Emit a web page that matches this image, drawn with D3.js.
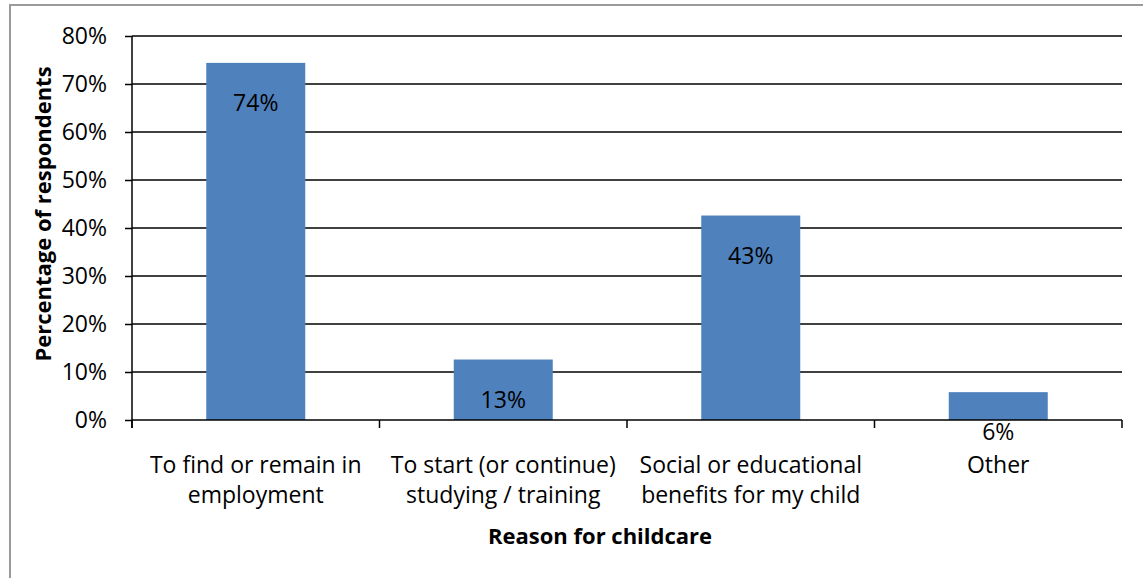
<!DOCTYPE html>
<html><head><meta charset="utf-8">
<script src="https://cdn.jsdelivr.net/npm/d3@7"></script>
<style>body{margin:0;background:#fff;} svg{display:block;} text{font-family:"Open Sans",sans-serif;fill:#000;}</style>
</head><body>
<svg id="c" width="1143" height="578"></svg>
<script>
const categories = [["To find or remain in","employment"],["To start (or continue)","studying / training"],["Social or educational","benefits for my child"],["Other"]];
const values = [0.744, 0.126, 0.426, 0.058];
const valueLabels = ["74%","13%","43%","6%"];
const yTicks = [0,0.1,0.2,0.3,0.4,0.5,0.6,0.7,0.8];
const yTitle = "Percentage of respondents";
const xTitle = "Reason for childcare";

(function(){
const FS = "23px", FB = "22px";
const svg = d3.select("#c");
const pL = 132, pR = 1122, pT = 36, pB = 420;
const x = d3.scaleBand().domain(d3.range(categories.length)).range([pL,pR]).paddingInner(0.6).paddingOuter(0.3);
const step = x.step();
const y = d3.scaleLinear().domain([0,0.8]).range([pB,pT]);

// frame
svg.append("path").attr("d",`M10,578 V5 H1143`).attr("fill","none").attr("stroke","#9a9a9a").attr("stroke-width",2);

// gridlines
svg.append("g").selectAll("line").data(yTicks.filter(d=>d>0)).join("line")
  .attr("x1",pL).attr("x2",pR).attr("y1",d=>y(d)).attr("y2",d=>y(d))
  .attr("stroke","#000").attr("stroke-width",1.5);

// y axis
const yAxis = d3.axisLeft(y).tickValues(yTicks).tickFormat(d3.format(".0%")).tickSize(7).tickPadding(18);
const yg = svg.append("g").attr("transform",`translate(${pL},0)`).call(yAxis);
yg.select(".domain").attr("stroke","#000").attr("stroke-width",1.5).attr("d",`M0,${pT}V${pB+8}`);
yg.selectAll(".tick line").attr("stroke","#000").attr("stroke-width",1.5);
yg.selectAll(".tick text").style("font-size",FS).style("font-family","'Open Sans',sans-serif").attr("fill","#000");

// bars
svg.append("g").selectAll("rect").data(values).join("rect")
  .attr("x",(d,i)=>x(i)).attr("width",x.bandwidth())
  .attr("y",d=>y(d)).attr("height",d=>pB-y(d)).attr("fill","#4F81BD");

// x axis baseline and ticks
svg.append("line").attr("x1",pL).attr("x2",pR).attr("y1",pB).attr("y2",pB).attr("stroke","#000").attr("stroke-width",1.5);
const bounds = d3.range(categories.length+1).map(i=>pL+i*step);
svg.append("g").selectAll("line").data(bounds).join("line")
  .attr("x1",d=>d).attr("x2",d=>d).attr("y1",pB).attr("y2",pB+8).attr("stroke","#000").attr("stroke-width",1.5);

// value labels
svg.append("g").selectAll("text").data(values).join("text")
  .attr("x",(d,i)=>x(i)+x.bandwidth()/2).attr("y",d=>y(d)+39)
  .attr("text-anchor","middle").attr("dominant-baseline","central")
  .style("font-size",FS).text((d,i)=>valueLabels[i]);

// category labels
const cg = svg.append("g").selectAll("text").data(categories).join("text")
  .attr("x",(d,i)=>x(i)+x.bandwidth()/2).attr("y",464)
  .attr("text-anchor","middle").style("font-size",FS);
cg.selectAll("tspan").data(d=>d).join("tspan")
  .attr("x",function(){return this.parentNode.getAttribute("x");})
  .attr("y",(d,j)=>464+j*30).attr("dominant-baseline","central").text(d=>d);

// axis titles
svg.append("text").attr("x",600).attr("y",535).attr("text-anchor","middle").attr("dominant-baseline","central")
  .style("font-size",FB).style("font-weight","bold").text(xTitle);
svg.append("text").attr("transform","translate(42,214) rotate(-90)").attr("text-anchor","middle").attr("dominant-baseline","central")
  .style("font-size",FB).style("font-weight","bold").text(yTitle);
})();
</script>
</body></html>
